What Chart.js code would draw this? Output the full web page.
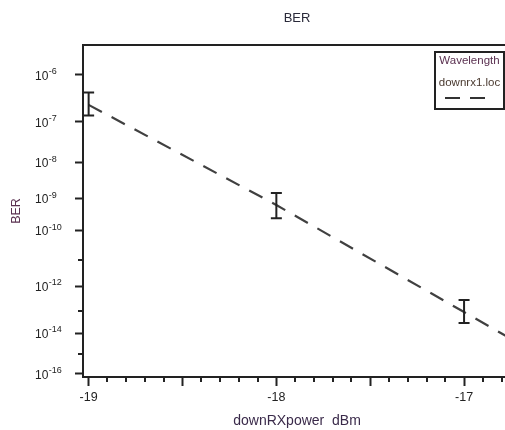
<!DOCTYPE html>
<html>
<head>
<meta charset="utf-8">
<script src="https://cdn.jsdelivr.net/npm/chart.js@4.4.1/dist/chart.umd.min.js"></script>
<style>
  html, body { margin: 0; padding: 0; background: #fff; overflow: hidden; }
  #wrap { width: 520px; height: 430px; }
</style>
</head>
<body>
<div id="wrap"><canvas id="berChart"></canvas></div>
<script>
// Measured BER points with error bars
const rxPower = [-19, -18, -17];
const berValues = [2.3e-7, 6.4e-10, 9.7e-14];
const berUpper = [4.4e-7, 1.45e-9, 2.8e-13];
const berLower = [1.4e-7, 2.5e-10, 2.9e-14];

// Dashed fit line (downrx1.loc)
const fitPower = [-19, -18, -17, -16.75];
const fitBer = [2.4e-7, 6.4e-10, 8.7e-14, 5.5e-15];

// Axis ticks
const xMajorTicks = [-19, -18.5, -18, -17.5, -17];
const xLabelTicks = [-19, -18, -17];
const xMinorTicks = [-18.9, -18.8, -18.7, -18.6, -18.4, -18.3, -18.2, -18.1,
  -17.9, -17.8, -17.7, -17.6, -17.4, -17.3, -17.2, -17.1, -16.9, -16.8];
const yExponents = [6, 7, 8, 9, 10, 12, 14, 16];
const yMinorExponents = [11, 13, 15];

const ink = '#222';
const titleInk = '#5a3050';
const fontFamily = '"Liberation Sans", Arial, sans-serif';

// BER axis is plotted as -log10(BER) on a log scale
function toExp(v) { return -Math.log10(v); }

const extras = {
  id: 'extras',
  afterDatasetsDraw(chart) {
    const ctx = chart.ctx;
    const x = chart.scales.x;
    const y = chart.scales.y;
    const area = chart.chartArea;
    ctx.save();
    ctx.strokeStyle = ink;
    ctx.lineWidth = 2;

    // error bars
    rxPower.forEach((p, i) => {
      const px = x.getPixelForValue(p);
      const top = y.getPixelForValue(toExp(berUpper[i]));
      const bot = y.getPixelForValue(toExp(berLower[i]));
      ctx.beginPath();
      ctx.moveTo(px, top); ctx.lineTo(px, bot);
      ctx.moveTo(px - 5.5, top); ctx.lineTo(px + 5.5, top);
      ctx.moveTo(px - 5.5, bot); ctx.lineTo(px + 5.5, bot);
      ctx.stroke();
    });

    // minor tick marks
    ctx.beginPath();
    xMinorTicks.forEach((v) => {
      const px = Math.round(x.getPixelForValue(v));
      ctx.moveTo(px, area.bottom); ctx.lineTo(px, area.bottom + 5);
    });
    yMinorExponents.forEach((v) => {
      const py = Math.round(y.getPixelForValue(v));
      ctx.moveTo(area.left, py); ctx.lineTo(area.left - 5, py);
    });
    ctx.stroke();

    // y tick labels as 10 with raised exponent
    ctx.fillStyle = ink;
    ctx.textAlign = 'left';
    ctx.textBaseline = 'middle';
    yExponents.forEach((e) => {
      const py = y.getPixelForValue(e);
      const lx = area.left - 48;
      ctx.font = '12px ' + fontFamily;
      ctx.fillText('10', lx, py + 1.5);
      const w = ctx.measureText('10').width;
      ctx.font = '9px ' + fontFamily;
      ctx.fillText('-' + e, lx + w + 0.5, py - 3.5);
    });

    // legend box
    const bx = area.right - 76, by = area.top + 7, bw = 69, bh = 57;
    ctx.fillStyle = '#fff';
    ctx.fillRect(bx, by, bw, bh);
    ctx.strokeRect(bx, by, bw, bh);
    ctx.fillStyle = titleInk;
    ctx.font = '11.5px ' + fontFamily;
    ctx.textAlign = 'center';
    ctx.fillText('Wavelength', bx + bw / 2, by + 9);
    ctx.fillStyle = '#4a3a30';
    ctx.fillText(chart.data.datasets[0].label, bx + bw / 2, by + 31);
    ctx.strokeStyle = '#333';
    ctx.setLineDash([15, 10]);
    ctx.beginPath();
    ctx.moveTo(bx + 10, by + 46); ctx.lineTo(bx + 50, by + 46);
    ctx.stroke();
    ctx.restore();
  }
};

new Chart(document.getElementById('berChart'), {
  type: 'scatter',
  data: {
    datasets: [
      {
        label: 'downrx1.loc',
        data: fitPower.map((p, i) => ({ x: p, y: toExp(fitBer[i]) })),
        showLine: true,
        borderColor: '#404040',
        borderWidth: 2.2,
        borderDash: [15, 11],
        pointRadius: 0,
      },
      {
        label: 'measured',
        data: rxPower.map((p, i) => ({ x: p, y: toExp(berValues[i]) })),
        pointRadius: 0,
      },
    ],
  },
  options: {
    responsive: true,
    maintainAspectRatio: false,
    animation: false,
    layout: { padding: { left: 0, right: 9, top: 0, bottom: 0 } },
    plugins: {
      legend: { display: false },
      title: { display: false },
      tooltip: { enabled: false },
    },
    scales: {
      x: {
        type: 'linear',
        position: 'bottom',
        min: -19.03,
        max: -16.75,
        afterBuildTicks: (scale) => { scale.ticks = xMajorTicks.map((v) => ({ value: v })); },
        afterFit: (scale) => { scale.height = 53; },
        ticks: {
          autoSkip: false,
          maxRotation: 0,
          padding: 4,
          color: ink,
          font: { family: fontFamily, size: 12.5 },
          callback: (v) => (xLabelTicks.includes(v) ? String(v) : ''),
        },
        grid: { drawOnChartArea: false, tickLength: 9, tickWidth: 2, tickColor: ink },
        border: { color: ink, width: 2 },
        title: {
          display: true,
          text: 'downRXpower  dBm',
          color: '#3a2a4a',
          padding: { top: 0, bottom: 0 },
          font: { family: fontFamily, size: 14 },
        },
      },
      xTop: {
        type: 'linear',
        position: 'top',
        min: -19.03,
        max: -16.75,
        afterFit: (scale) => { scale.height = 45; },
        ticks: { display: false },
        grid: { drawOnChartArea: false, drawTicks: false },
        border: { color: ink, width: 2 },
        title: {
          display: true,
          text: 'BER',
          color: '#2a2a3a',
          padding: { top: 11, bottom: 0 },
          font: { family: fontFamily, size: 13 },
        },
      },
      y: {
        type: 'logarithmic',
        position: 'left',
        reverse: true,
        min: 5.44,
        max: 16.16,
        afterBuildTicks: (scale) => { scale.ticks = yExponents.map((v) => ({ value: v })); },
        afterFit: (scale) => { scale.width = 83; },
        ticks: { display: false },
        grid: { drawOnChartArea: false, tickLength: 8, tickWidth: 2, tickColor: ink },
        border: { color: ink, width: 2 },
        title: {
          display: true,
          text: 'BER',
          color: titleInk,
          padding: { top: 9, bottom: 0 },
          font: { family: fontFamily, size: 12.5 },
        },
      },
    },
  },
  plugins: [extras],
});
</script>
</body>
</html>
